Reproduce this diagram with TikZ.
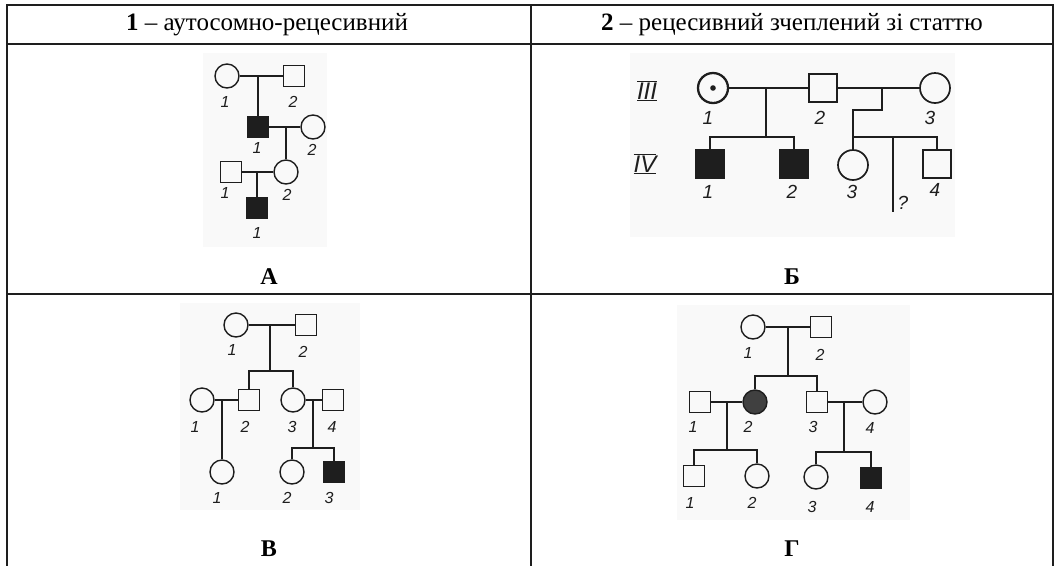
\documentclass[tikz,border=0pt]{standalone}
\usepackage{fontspec}
\setmainfont{Liberation Serif}
\setsansfont{Liberation Sans}
\usetikzlibrary{positioning}
\definecolor{ink}{RGB}{30,30,30}
\definecolor{scan}{RGB}{249,249,249}

\tikzset{
  rule/.style={ink, line width=2pt},
  male/.style={draw=ink, rectangle, inner sep=0pt, minimum size=21pt},
  female/.style={draw=ink, circle, inner sep=0pt, minimum size=24pt},
  ill/.style={fill=ink},
  num/.style={ink, font=\sffamily\itshape\fontsize{16}{17}\selectfont},
  head/.style={font=\fontsize{25}{27}\selectfont},
  tag/.style={font=\bfseries\fontsize{24}{26}\selectfont}
}

\begin{document}
\begin{tikzpicture}[x=1pt, y=-1pt, line width=1.4pt]
  \useasboundingbox (0,0) rectangle (1055,566);
  % table
  \draw[rule] (6,5) -- (1054,5);
  \draw[rule] (6,44) -- (1054,44);
  \draw[rule] (6,294) -- (1054,294);
  \draw[rule] (7,4) -- (7,566);
  \draw[rule] (531,4) -- (531,566);
  \draw[rule] (1053,4) -- (1053,566);
  \node[head] (h1) at (267,25) {\textbf{1} -- аутосомно-рецесивний};
  \node[head] (h2) at (792,25) {\textbf{2} -- рецесивний зчеплений зі статтю};
  \node[tag] (tA) at (269,277) {А};
  \node[tag] (tB) at (792,277) {Б};
  \node[tag] (tC) at (269,549) {В};
  \node[tag] (tD) at (792,549) {Г};

  % A
  \fill[scan] (203,53) rectangle (327,247);
  \node[female] (a1) at (227,76) {};
  \node[male] (a2) at (294,76) {};
  \node[male,ill] (a3) at (258,127) {};
  \node[female] (a4) at (313,127) {};
  \node[male] (a5) at (231,172) {};
  \node[female] (a6) at (286,172) {};
  \node[male,ill] (a7) at (257,208) {};
  \coordinate (am1) at (258,76);
  \coordinate (am2) at (286,127);
  \coordinate (am3) at (257,172);
  \draw[ink] (a1) -- (a2);
  \draw[ink] (am1) -- (a3);
  \draw[ink] (a3) -- (a4);
  \draw[ink] (am2) -- (a6);
  \draw[ink] (a5) -- (a6);
  \draw[ink] (am3) -- (a7);
  \node[num] (a1n) at (225,102) {1};
  \node[num] (a2n) at (293,102) {2};
  \node[num] (a3n) at (257,148) {1};
  \node[num] (a4n) at (312,150) {2};
  \node[num] (a5n) at (225,193) {1};
  \node[num] (a6n) at (287,195) {2};
  \node[num] (a7n) at (257,233) {1};

  % B
  \fill[scan] (630,53) rectangle (955,237);
  \begin{scope}[line width=1.7pt,
      male/.append style={minimum size=28pt},
      female/.append style={minimum size=30pt},
      num/.append style={font=\sffamily\itshape\fontsize{19}{21}\selectfont}]
    \node[num, font=\sffamily\itshape\fontsize{24}{26}\selectfont] (g3) at (647,91) {$\overline{\underline{\textit{III}}}$};
    \node[num, font=\sffamily\itshape\fontsize{24}{26}\selectfont] (g4) at (645,164) {$\overline{\underline{\textit{IV}}}$};
    \node[female, line width=2.3pt] (b1) at (713,88) {};
    \fill[ink] (b1) circle (2.8pt);
    \node[male] (b2) at (823,88) {};
    \node[female] (b3) at (935,88) {};
    \node[male,ill] (b4) at (710,164) {};
    \node[male,ill] (b5) at (794,164) {};
    \node[female] (b6) at (853,165) {};
    \node[male] (b7) at (937,164) {};
    \coordinate (bm1) at (766,88);
    \coordinate (bs1) at (766,137);
    \coordinate (bm2) at (882,88);
    \coordinate (bk) at (853,110);
    \coordinate (bs2) at (853,137);
    \coordinate (bq1) at (893,137);
    \coordinate (bq2) at (893,212);
    \draw[ink] (b1) -- (b2);
    \draw[ink] (b2) -- (b3);
    \draw[ink] (bm1) -- (bs1);
    \draw[ink] (b4) |- (bs1) -| (b5);
    \draw[ink] (bm2) |- (bk) -- (b6);
    \draw[ink] (bs2) -| (b7);
    \draw[ink] (bq1) -- (bq2);
    \node[num] (b1n) at (708,118) {1};
    \node[num] (b2n) at (820,118) {2};
    \node[num] (b3n) at (930,118) {3};
    \node[num] (b4n) at (708,192) {1};
    \node[num] (b5n) at (792,192) {2};
    \node[num] (b6n) at (852,192) {3};
    \node[num] (b7n) at (935,190) {4};
    \node[num] (bqn) at (903,203) {?};
  \end{scope}

  % C
  \fill[scan] (180,303) rectangle (360,510);
  \node[female] (c1) at (236,325) {};
  \node[male] (c2) at (306,325) {};
  \node[female] (c3) at (202,400) {};
  \node[male] (c4) at (249,400) {};
  \node[female] (c5) at (293,400) {};
  \node[male] (c6) at (333,400) {};
  \node[female] (c7) at (222,472) {};
  \node[female] (c8) at (292,472) {};
  \node[male,ill] (c9) at (334,472) {};
  \coordinate (cm1) at (270,325);
  \coordinate (cs1) at (270,371);
  \coordinate (cm2) at (222,400);
  \coordinate (cm3) at (313,400);
  \coordinate (cs2) at (313,448);
  \draw[ink] (c1) -- (c2);
  \draw[ink] (cm1) -- (cs1);
  \draw[ink] (c4) |- (cs1) -| (c5);
  \draw[ink] (c3) -- (c4);
  \draw[ink] (cm2) -- (c7);
  \draw[ink] (c5) -- (c6);
  \draw[ink] (cm3) -- (cs2);
  \draw[ink] (c8) |- (cs2) -| (c9);
  \node[num] (c1n) at (232,350) {1};
  \node[num] (c2n) at (303,352) {2};
  \node[num] (c3n) at (195,427) {1};
  \node[num] (c4n) at (245,427) {2};
  \node[num] (c5n) at (292,427) {3};
  \node[num] (c6n) at (332,427) {4};
  \node[num] (c7n) at (217,498) {1};
  \node[num] (c8n) at (287,498) {2};
  \node[num] (c9n) at (329,498) {3};

  % D
  \fill[scan] (677,305) rectangle (910,520);
  \node[female] (d1) at (753,327) {};
  \node[male] (d2) at (821,327) {};
  \node[male] (d3) at (700,402) {};
  \node[female,fill=black!75] (d4) at (755,402) {};
  \node[male] (d5) at (817,402) {};
  \node[female] (d6) at (875,402) {};
  \node[male] (d7) at (694,476) {};
  \node[female] (d8) at (757,476) {};
  \node[female] (d9) at (816,477) {};
  \node[male,ill] (d10) at (871,478) {};
  \coordinate (dm1) at (788,327);
  \coordinate (ds1) at (788,376);
  \coordinate (dm2) at (727,402);
  \coordinate (ds2) at (727,450);
  \coordinate (dm3) at (844,402);
  \coordinate (ds3) at (844,452);
  \draw[ink] (d1) -- (d2);
  \draw[ink] (dm1) -- (ds1);
  \draw[ink] (d4) |- (ds1) -| (d5);
  \draw[ink] (d3) -- (d4);
  \draw[ink] (dm2) -- (ds2);
  \draw[ink] (d7) |- (ds2) -| (d8);
  \draw[ink] (d5) -- (d6);
  \draw[ink] (dm3) -- (ds3);
  \draw[ink] (d9) |- (ds3) -| (d10);
  \node[num] (d1n) at (748,353) {1};
  \node[num] (d2n) at (820,355) {2};
  \node[num] (d3n) at (693,427) {1};
  \node[num] (d4n) at (748,427) {2};
  \node[num] (d5n) at (813,427) {3};
  \node[num] (d6n) at (870,428) {4};
  \node[num] (d7n) at (690,503) {1};
  \node[num] (d8n) at (752,503) {2};
  \node[num] (d9n) at (812,507) {3};
  \node[num] (d10n) at (870,507) {4};
\end{tikzpicture}
\end{document}
